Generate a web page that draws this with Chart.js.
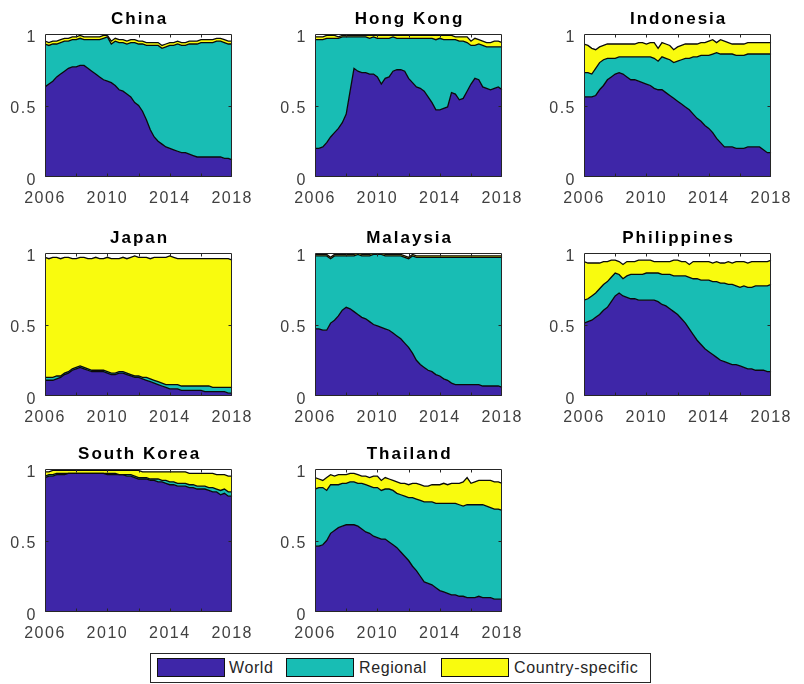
<!DOCTYPE html>
<html>
<head>
<meta charset="utf-8">
<script src="https://cdn.jsdelivr.net/npm/chart.js@4/dist/chart.umd.min.js"></script>
<style>
  html, body { margin: 0; padding: 0; background: #fff; }
  #page { position: relative; width: 804px; height: 684px; overflow: hidden; background: #fff; }
  #page canvas { position: absolute; }
  #legend { position: absolute; left: 150px; top: 653px; width: 499px; height: 28px;
            border: 1px solid #262626; font: 16px "Liberation Sans", Arial, sans-serif;
            letter-spacing: 0.6px; color: #262626; background: #fff; }
  #legend .sw { position: absolute; top: 4px; width: 66px; height: 17px; border: 1px solid #111; }
  #legend .lb { position: absolute; top: 0; line-height: 28px; white-space: nowrap; }
</style>
</head>
<body>
<div id="page">
  <div id="legend">
    <div class="sw" style="left:6px; background:rgb(62,38,168)"></div>
    <div class="lb" style="left:78px">World</div>
    <div class="sw" style="left:135px; background:rgb(24,189,180)"></div>
    <div class="lb" style="left:208px">Regional</div>
    <div class="sw" style="left:290px; background:rgb(249,251,14)"></div>
    <div class="lb" style="left:363px">Country-specific</div>
  </div>
</div>
<script>
// Quarterly observation dates
const quarters = [
  2006, 2006.25, 2006.5, 2006.75, 2007, 2007.25, 2007.5, 2007.75,
  2008, 2008.25, 2008.5, 2008.75, 2009, 2009.25, 2009.5, 2009.75,
  2010, 2010.25, 2010.5, 2010.75, 2011, 2011.25, 2011.5, 2011.75,
  2012, 2012.25, 2012.5, 2012.75, 2013, 2013.25, 2013.5, 2013.75,
  2014, 2014.25, 2014.5, 2014.75, 2015, 2015.25, 2015.5, 2015.75,
  2016, 2016.25, 2016.5, 2016.75, 2017, 2017.25, 2017.5, 2017.75,
  2018
];

const yearTicks = [2006, 2010, 2014, 2018];
const shareTicks = [0, 0.5, 1];
const seriesNames = ['World', 'Regional', 'Country-specific'];
const countries = ['China', 'Hong Kong', 'Indonesia', 'Japan', 'Malaysia', 'Philippines', 'South Korea', 'Thailand'];

// Variance shares by factor
const chinaWorld = [.63,.65,.67,.70, .72,.74,.76,.77, .77,.78,.78,.76, .74,.72,.70,.68, .67,.66,.64,.61, .60,.58,.56,.52, .50,.46,.40,.33, .28,.25,.23,.21, .20,.19,.18,.17, .17,.16,.15,.14, .14,.14,.14,.14, .14,.14,.13,.13, .12];
const chinaRegional = [.30,.27,.26,.23, .22,.21,.19,.19, .19,.19,.18,.20, .22,.24,.26,.29, .31,.27,.31,.33, .34,.35,.38,.42, .43,.47,.52,.59, .64,.67,.67,.70, .72,.73,.75,.75, .75,.77,.78,.79, .80,.80,.80,.80, .81,.81,.81,.80, .81];
const chinaCountry = [.02,.02,.02,.02, .02,.02,.02,.02, .02,.02,.02,.02, .02,.02,.02,.02, .01,.02,.02,.02, .02,.02,.02,.02, .02,.02,.02,.02, .02,.02,.02,.02, .02,.02,.02,.02, .02,.02,.02,.02, .02,.02,.02,.02, .02,.02,.02,.02, .02];

const hongKongWorld = [.20,.20,.21,.24, .28,.31,.34,.38, .44,.60,.76,.74, .73,.73,.72,.72, .70,.65,.69,.70, .74,.75,.75,.74, .69,.66,.63,.62, .60,.56,.52,.47, .47,.48,.49,.59, .58,.54,.55,.60, .65,.69,.68,.63, .62,.61,.62,.63, .61];
const hongKongRegional = [.76,.76,.75,.73, .69,.66,.63,.60, .54,.38,.22,.24, .25,.25,.25,.26, .27,.32,.28,.27, .24,.22,.22,.23, .28,.31,.34,.35, .37,.41,.45,.49, .50,.48,.47,.37, .38,.41,.40,.34, .27,.23,.25,.29, .29,.30,.29,.28, .30];
const hongKongCountry = [.02,.02,.02,.02, .02,.02,.01,.01, .01,.01,.01,.01, .01,.01,.02,.01, .02,.02,.02,.02, .01,.02,.02,.02, .02,.02,.02,.02, .02,.02,.02,.03, .02,.03,.03,.03, .02,.03,.03,.04, .03,.05,.03,.03, .03,.03,.04,.04, .03];

const indonesiaWorld = [.56,.56,.56,.57, .61,.64,.68,.70, .72,.73,.72,.70, .68,.68,.67,.66, .65,.64,.62,.61, .61,.59,.57,.55, .53,.51,.49,.47, .44,.41,.39,.36, .34,.31,.27,.24, .21,.21,.21,.20, .20,.20,.21,.21, .21,.21,.19,.17, .17];
const indonesiaRegional = [.17,.17,.16,.19, .19,.18,.15,.13, .11,.11,.12,.14, .16,.16,.17,.18, .19,.20,.21,.20, .23,.24,.25,.25, .28,.31,.34,.36, .40,.43,.46,.49, .51,.55,.60,.62, .65,.65,.65,.65, .65,.65,.65,.65, .65,.65,.67,.69, .69];
const indonesiaCountry = [.20,.19,.18,.13, .11,.10,.10,.10, .10,.09,.09,.09, .09,.09,.10,.10, .09,.10,.11,.09, .10,.10,.10,.09, .10,.10,.10,.10, .09,.09,.09,.09, .10,.10,.07,.10, .09,.08,.07,.08, .08,.08,.08,.08, .08,.08,.08,.08, .08];

const japanWorld = [.11,.11,.11,.12, .13,.15,.16,.18, .19,.20,.19,.18, .17,.17,.17,.17, .16,.15,.15,.16, .16,.15,.14,.13, .13,.12,.11,.10, .09,.08,.07,.06, .05,.05,.05,.04, .04,.04,.04,.04, .04,.03,.03,.03, .03,.03,.03,.02, .02];
const japanRegional = [.02,.02,.02,.02, .01,.01,.01,.01, .01,.01,.01,.01, .01,.01,.01,.01, .01,.01,.01,.01, .01,.01,.01,.01, .01,.01,.02,.02, .02,.02,.02,.02, .03,.03,.03,.03, .03,.03,.03,.03, .03,.04,.04,.03, .03,.03,.03,.04, .04];
const japanCountry = [.84,.83,.84,.83, .82,.81,.80,.77, .76,.76,.77,.77, .78,.79,.78,.78, .80,.80,.80,.79, .80,.80,.82,.84, .83,.84,.84,.84, .86,.87,.88,.89, .90,.89,.88,.89, .89,.89,.89,.89, .89,.89,.89,.90, .90,.90,.90,.90, .89];

const malaysiaWorld = [.47,.47,.46,.46, .51,.53,.56,.60, .62,.61,.59,.57, .55,.54,.52,.50, .49,.48,.47,.46, .44,.42,.40,.37, .34,.30,.25,.22, .20,.18,.17,.15, .14,.12,.11,.09, .08,.08,.08,.08, .08,.08,.08,.07, .07,.07,.07,.07, .06];
const malaysiaRegional = [.51,.51,.52,.52, .45,.45,.42,.38, .36,.37,.39,.42, .43,.44,.46,.49, .50,.51,.51,.52, .54,.56,.58,.60, .62,.68,.72,.75, .77,.79,.80,.82, .83,.85,.86,.88, .89,.89,.89,.89, .89,.89,.89,.90, .90,.90,.90,.90, .91];
const malaysiaCountry = [.01,.01,.01,.01, .01,.01,.01,.01, .01,.01,.01,.01, .01,.01,.01,.01, .01,.01,.01,.01, .01,.01,.01,.01, .01,.01,.01,.01, .01,.01,.01,.01, .01,.01,.01,.01, .01,.01,.01,.01, .01,.01,.01,.01, .01,.01,.01,.01, .01];

const philippinesWorld = [.51,.52,.53,.55, .57,.60,.62,.66, .70,.72,.70,.69, .68,.68,.67,.67, .67,.67,.67,.66, .64,.63,.61,.59, .57,.54,.51,.47, .43,.39,.36,.33, .31,.29,.27,.25, .24,.23,.22,.22, .21,.20,.19,.19, .18,.18,.18,.17, .17];
const philippinesRegional = [.16,.16,.17,.17, .18,.18,.18,.17, .16,.13,.12,.15, .17,.17,.18,.18, .19,.19,.19,.20, .21,.22,.24,.25, .27,.30,.33,.36, .39,.43,.45,.48, .50,.51,.53,.54, .55,.55,.56,.55, .55,.57,.57,.57, .59,.59,.59,.60, .61];
const philippinesCountry = [.27,.25,.23,.21, .18,.16,.14,.12, .09,.09,.10,.10, .09,.09,.10,.10, .09,.09,.08,.08, .09,.09,.09,.11, .11,.10,.10,.09, .12,.12,.13,.13, .13,.13,.14,.14, .14,.16,.15,.17, .18,.17,.17,.18, .17,.17,.17,.17, .17];

const southKoreaWorld = [.94,.95,.95,.96, .96,.96,.97,.97, .97,.97,.97,.97, .97,.97,.97,.97, .96,.96,.96,.96, .96,.95,.95,.94, .93,.93,.93,.92, .92,.91,.91,.90, .89,.89,.88,.88, .88,.87,.87,.86, .86,.86,.85,.84, .84,.82,.83,.81, .81];
const southKoreaRegional = [.01,.01,.01,.01, .01,.01,0,0, 0,0,0,0, 0,0,0,0, .01,.01,.01,0, 0,.01,.01,.01, .01,.01,.01,.01, .01,.02,.01,.02, .02,.02,.02,.02, .02,.02,.02,.02, .02,.02,.02,.03, .02,.03,.03,.03, .03];
const southKoreaCountry = [.03,.02,.03,.02, .02,.02,.02,.02, .02,.02,.02,.02, .02,.02,.02,.02, .02,.02,.02,.03, .03,.03,.03,.04, .05,.04,.04,.05, .05,.05,.06,.06, .07,.07,.08,.08, .08,.08,.08,.09, .09,.09,.10,.10, .10,.11,.10,.11, .11];

const thailandWorld = [.46,.46,.47,.50, .55,.57,.59,.60, .61,.61,.61,.60, .58,.56,.55,.53, .52,.51,.51,.49, .47,.45,.42,.39, .36,.32,.29,.25, .21,.20,.19,.17, .15,.14,.13,.12, .12,.11,.11,.10, .10,.10,.11,.10, .10,.10,.09,.09, .09];
const thailandRegional = [.40,.41,.40,.35, .34,.32,.30,.30, .29,.30,.30,.30, .32,.33,.33,.34, .35,.34,.35,.37, .38,.38,.40,.42, .44,.48,.50,.53, .56,.57,.58,.59, .61,.62,.63,.64, .64,.64,.63,.65, .65,.65,.64,.65, .64,.63,.63,.63, .62];
const thailandCountry = [.08,.06,.05,.09, .07,.06,.07,.06, .06,.06,.06,.06, .05,.06,.06,.08, .08,.07,.08,.07, .07,.08,.08,.09, .09,.10,.11,.11, .11,.11,.12,.13, .13,.14,.13,.14, .14,.15,.17,.19, .15,.16,.17,.17, .18,.19,.19,.19, .19];

const panelSeries = [
  [chinaWorld, chinaRegional, chinaCountry],
  [hongKongWorld, hongKongRegional, hongKongCountry],
  [indonesiaWorld, indonesiaRegional, indonesiaCountry],
  [japanWorld, japanRegional, japanCountry],
  [malaysiaWorld, malaysiaRegional, malaysiaCountry],
  [philippinesWorld, philippinesRegional, philippinesCountry],
  [southKoreaWorld, southKoreaRegional, southKoreaCountry],
  [thailandWorld, thailandRegional, thailandCountry]
];

// ---- layout ----
const FILLS = ['rgb(62,38,168)', 'rgb(24,189,180)', 'rgb(249,251,14)'];
const COL_LEFT = [45, 315, 584];
const ROW_TOP = [34, 253, 469];
const PLOT_W = 193, PLOT_H = 143;
const AXIS_W = 45, HEAD_H = 34;
const CANVAS_W = 262, CANVAS_H = 215;
const FONT = '"Liberation Sans", Arial, Helvetica, sans-serif';
const AXIS_COLOR = '#262626';

// Boxed axes with inward tick marks, plus the panel heading
const framePlugin = {
  id: 'frame',
  beforeDraw(chart) {
    chart.ctx.letterSpacing = '1.5px';
  },
  afterDatasetsDraw(chart) {
    const { ctx, chartArea: a, scales: { x, y } } = chart;
    const L = Math.round(a.left) + 0.5, R = Math.round(a.right) - 0.5;
    const T = Math.round(a.top) + 0.5, B = Math.round(a.bottom) - 0.5;
    ctx.save();
    ctx.strokeStyle = AXIS_COLOR;
    ctx.lineWidth = 1;
    ctx.beginPath();
    ctx.rect(L, T, R - L, B - T);
    for (let yr = 2008; yr <= 2016; yr += 2) {
      const px = Math.round(x.getPixelForValue(yr)) + 0.5;
      ctx.moveTo(px, B); ctx.lineTo(px, B - 3);
      ctx.moveTo(px, T); ctx.lineTo(px, T + 3);
    }
    const py = Math.round(y.getPixelForValue(0.5)) + 0.5;
    ctx.moveTo(L, py); ctx.lineTo(L + 3, py);
    ctx.moveTo(R, py); ctx.lineTo(R - 3, py);
    ctx.stroke();
    ctx.restore();
  },
  afterDraw(chart) {
    const { ctx, chartArea: a } = chart;
    ctx.save();
    ctx.letterSpacing = '2px';
    ctx.font = 'bold 17px ' + FONT;
    ctx.fillStyle = '#000';
    ctx.textAlign = 'center';
    ctx.textBaseline = 'middle';
    ctx.fillText(chart.options.plugins.panelTitle.text, (a.left + a.right) / 2 + 1, a.top - 15);
    ctx.restore();
  }
};

const page = document.getElementById('page');

countries.forEach((name, i) => {
  const col = i % 3, row = Math.floor(i / 3);
  const canvas = document.createElement('canvas');
  canvas.width = CANVAS_W;
  canvas.height = CANVAS_H;
  canvas.style.left = (COL_LEFT[col] - AXIS_W) + 'px';
  canvas.style.top = (ROW_TOP[row] - HEAD_H) + 'px';
  canvas.style.width = CANVAS_W + 'px';
  canvas.style.height = CANVAS_H + 'px';
  page.appendChild(canvas);

  const datasets = panelSeries[i].map((values, k) => ({
    label: seriesNames[k],
    data: quarters.map((q, j) => ({ x: q, y: values[j] })),
    backgroundColor: FILLS[k],
    borderColor: '#0a0a0a',
    borderWidth: 1.3,
    pointRadius: 0,
    tension: 0,
    fill: k === 0 ? 'origin' : '-1'
  }));

  new Chart(canvas, {
    type: 'line',
    data: { datasets },
    options: {
      responsive: false,
      animation: false,
      devicePixelRatio: 1,
      layout: { padding: { top: HEAD_H, right: CANVAS_W - AXIS_W - PLOT_W, bottom: 0, left: 0 } },
      plugins: {
        legend: { display: false },
        tooltip: { enabled: false },
        filler: { drawTime: 'beforeDatasetsDraw' },
        panelTitle: { text: name }
      },
      scales: {
        x: {
          type: 'linear',
          min: yearTicks[0],
          max: yearTicks[yearTicks.length - 1],
          afterBuildTicks(scale) { scale.ticks = yearTicks.map(v => ({ value: v })); },
          afterFit(scale) { scale.height = CANVAS_H - HEAD_H - PLOT_H; },
          grid: { display: false, drawTicks: false },
          border: { display: false },
          ticks: {
            autoSkip: false, maxRotation: 0, padding: 12,
            color: '#404040', font: { family: FONT, size: 16 },
            callback: v => String(v)
          }
        },
        y: {
          stacked: true,
          min: shareTicks[0],
          max: shareTicks[shareTicks.length - 1],
          afterBuildTicks(scale) { scale.ticks = shareTicks.map(v => ({ value: v })); },
          afterFit(scale) { scale.width = AXIS_W; },
          grid: { display: false, drawTicks: false },
          border: { display: false },
          ticks: {
            padding: 8, labelOffset: 3.5,
            color: '#404040', font: { family: FONT, size: 16 },
            callback: v => String(v)
          }
        }
      }
    },
    plugins: [framePlugin]
  });
});
</script>
</body>
</html>
